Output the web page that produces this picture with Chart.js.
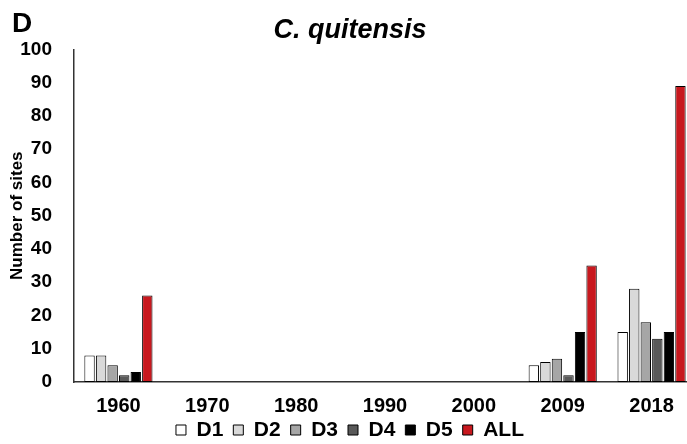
<!DOCTYPE html>
<html>
<head>
<meta charset="utf-8">
<script src="https://cdn.jsdelivr.net/npm/chart.js@4"></script>
<style>
    html, body { margin: 0; padding: 0; overflow: hidden; background: white; }
    #wrap { width: 700px; height: 444px; }
</style>
</head>
<body>
<div id="wrap"><canvas id="sitesChart"></canvas></div>
<script>
const years = ['1960', '1970', '1980', '1990', '2000', '2009', '2018'];
const d1 = [8, 0, 0, 0, 0, 5, 15];
const d2 = [8, 0, 0, 0, 0, 6, 28];
const d3 = [5, 0, 0, 0, 0, 7, 18];
const d4 = [2, 0, 0, 0, 0, 2, 13];
const d5 = [3, 0, 0, 0, 0, 15, 15];
const all = [26, 0, 0, 0, 0, 35, 89];
const yTicks = [0, 10, 20, 30, 40, 50, 60, 70, 80, 90, 100];

const FONT = "'Liberation Sans', Arial, sans-serif";

// panel letter in the corner + pull the legend a bit closer to the year labels
const panelExtras = {
    id: 'panelExtras',
    afterLayout(chart) {
        chart.legend.top -= 20.5;
        chart.legend.bottom -= 20.5;
    },
    afterDraw(chart) {
        const ctx = chart.ctx;
        ctx.save();
        ctx.font = "bold 28px " + FONT;
        ctx.fillStyle = 'black';
        ctx.textBaseline = 'alphabetic';
        ctx.fillText('D', 12, 32);
        ctx.restore();
    }
};

function makeSet(label, data, color) {
    return {
        label: label,
        data: data,
        backgroundColor: color,
        borderColor: 'black',
        borderWidth: 1,
        borderSkipped: false,
        categoryPercentage: 0.78,
        barPercentage: 0.9
    };
}

const ctx = document.getElementById('sitesChart').getContext('2d');

const sitesChart = new Chart(ctx, {
    type: 'bar',
    data: {
        labels: years,
        datasets: [
            makeSet('D1', d1, '#ffffff'),
            makeSet('D2', d2, '#d9d9d9'),
            makeSet('D3', d3, '#a6a6a6'),
            makeSet('D4', d4, '#595959'),
            makeSet('D5', d5, '#000000'),
            makeSet('ALL', all, '#c8181e')
        ]
    },
    options: {
        responsive: true,
        maintainAspectRatio: false,
        animation: false,
        layout: {
            padding: { left: 4, right: 4, top: 0, bottom: -27 }
        },
        scales: {
            x: {
                grid: { display: false, drawTicks: false },
                border: { display: true, color: '#333', width: 1.5 },
                ticks: {
                    color: 'black',
                    padding: 12,
                    maxRotation: 0,
                    font: { family: FONT, size: 20, weight: 'bold' }
                }
            },
            y: {
                min: 0,
                max: 100,
                afterBuildTicks: function (scale) {
                    scale.ticks = yTicks.map(v => ({ value: v }));
                },
                afterFit: function (scale) {
                    scale.width = 70;
                },
                grid: { display: false },
                border: { display: true, color: '#333', width: 1.5 },
                ticks: {
                    color: 'black',
                    padding: 14,
                    font: { family: FONT, size: 19, weight: 'bold' }
                },
                title: {
                    display: true,
                    text: 'Number of sites',
                    color: 'black',
                    padding: { top: 3, bottom: 0 },
                    font: { family: FONT, size: 17, weight: 'bold' }
                }
            }
        },
        plugins: {
            title: {
                display: true,
                text: 'C. quitensis',
                color: 'black',
                padding: { top: 14, bottom: 3 },
                font: { family: FONT, size: 27, weight: 'bold', style: 'italic' }
            },
            legend: {
                position: 'bottom',
                labels: {
                    color: 'black',
                    boxWidth: 10,
                    boxHeight: 10,
                    padding: 10,
                    font: { family: FONT, size: 21, weight: 'bold' }
                }
            },
            tooltip: { enabled: false }
        }
    },
    plugins: [panelExtras]
});
</script>
</body>
</html>
